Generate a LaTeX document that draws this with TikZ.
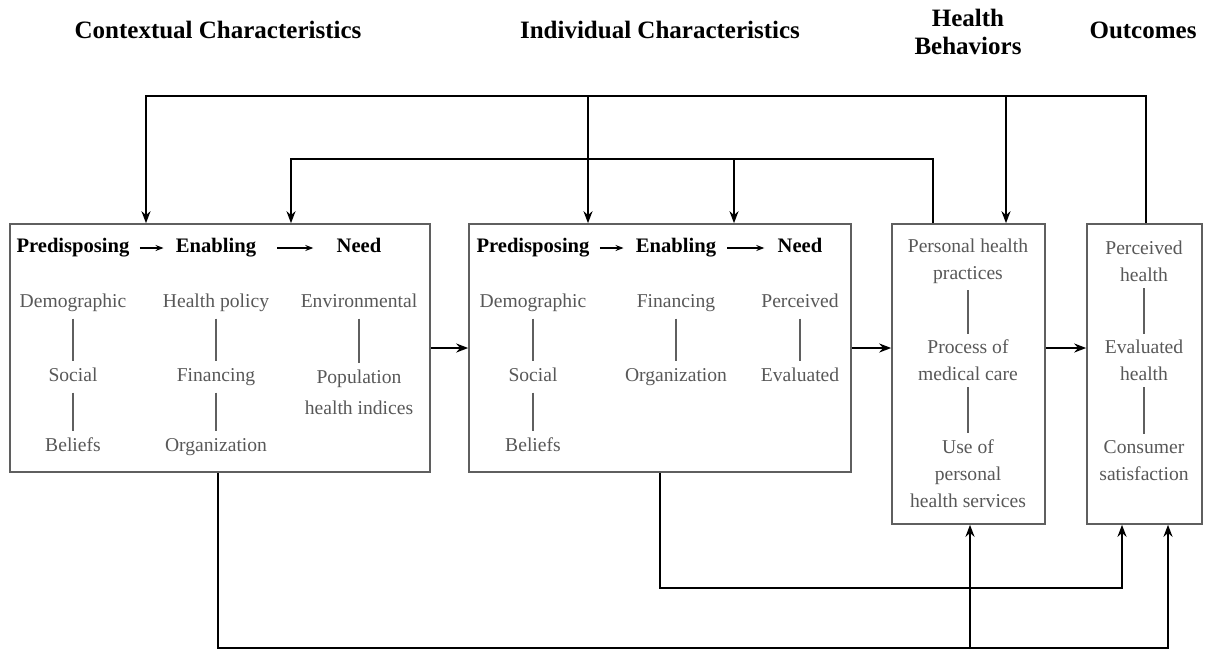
\documentclass[tikz,border=0pt]{standalone}
\usepackage{fontspec}
\setmainfont{Liberation Serif}
\usepackage{tikz}
\usetikzlibrary{arrows.meta}

\definecolor{itemgray}{RGB}{88,88,88}
\definecolor{framegray}{RGB}{95,95,95}

\tikzset{
  bigbox/.style={draw=framegray, line width=0.8pt, rectangle, inner sep=0pt},
  head/.style={font=\fontsize{12.5}{14}\selectfont\bfseries, align=center, inner sep=1pt},
  sub/.style={font=\fontsize{10.3}{12}\selectfont\bfseries, inner sep=2pt, text height=7.2pt, text depth=2.3pt},
  item/.style={text=itemgray, font=\fontsize{9.8}{13.5}\selectfont, inner xsep=2pt, inner ysep=3pt, text height=7pt, text depth=2.2pt},
  itemml/.style={text=itemgray, font=\fontsize{9.8}{13.5}\selectfont, align=center, inner xsep=2pt, inner ysep=3pt},
  link/.style={line width=0.9pt, draw=framegray},
  flow/.style={line width=1pt, -{Stealth[length=6pt,width=4.5pt]}},
  hdarrow/.style={line width=0.6pt, -{Stealth[length=4pt,width=3pt]}, shorten <=3pt, shorten >=4pt},
}

\begin{document}
\begin{tikzpicture}[x=0.5pt,y=-0.5pt]
\useasboundingbox (0,0) rectangle (1205,650);

% Titles
\node[head] (tctx) at (218,30) {Contextual Characteristics};
\node[head] (tind) at (660,30) {Individual Characteristics};
\node[head] (tbeh) at (968,32) {Health\\Behaviors};
\node[head] (tout) at (1143,30) {Outcomes};

% Boxes
\node[bigbox, minimum width=210pt, minimum height=124pt] (ctx) at (220,348) {};
\node[bigbox, minimum width=191pt, minimum height=124pt] (ind) at (660,348) {};
\node[bigbox, minimum width=76.5pt, minimum height=150pt] (beh) at (968.5,374) {};
\node[bigbox, minimum width=57.5pt, minimum height=150pt] (out) at (1144.5,374) {};

% Contextual box
\node[sub] (cpre) at (73,248) {Predisposing};
\node[sub] (cenb) at (216,248) {Enabling};
\node[sub] (cneed) at (359,248) {Need};
\draw[hdarrow] (cpre) -- (cenb);
\draw[hdarrow, shorten <=8.5pt, shorten >=9.5pt] (cenb) -- (cneed);

\node[item] (cdem) at (73,303) {Demographic};
\node[item] (csoc) at (73,377) {Social};
\node[item] (cbel) at (73,447) {Beliefs};
\node[item] (cpol) at (216,303) {Health policy};
\node[item] (cfin) at (216,377) {Financing};
\node[item] (corg) at (216,447) {Organization};
\node[item] (cenv) at (359,303) {Environmental};
\node[itemml] (cpop) at (359,392) {Population\\[2pt]health indices};
\draw[link] (cdem) -- (csoc);
\draw[link] (csoc) -- (cbel);
\draw[link] (cpol) -- (cfin);
\draw[link] (cfin) -- (corg);
\draw[link] (cenv) -- (cpop);

% Individual box
\node[sub] (ipre) at (533,248) {Predisposing};
\node[sub] (ienb) at (676,248) {Enabling};
\node[sub] (ineed) at (800,248) {Need};
\draw[hdarrow] (ipre) -- (ienb);
\draw[hdarrow, shorten <=3.5pt, shorten >=4.5pt] (ienb) -- (ineed);

\node[item] (idem) at (533,303) {Demographic};
\node[item] (isoc) at (533,377) {Social};
\node[item] (ibel) at (533,447) {Beliefs};
\node[item] (ifin) at (676,303) {Financing};
\node[item] (iorg) at (676,377) {Organization};
\node[item] (iper) at (800,303) {Perceived};
\node[item] (ieval) at (800,377) {Evaluated};
\draw[link] (idem) -- (isoc);
\draw[link] (isoc) -- (ibel);
\draw[link] (ifin) -- (iorg);
\draw[link] (iper) -- (ieval);

% Health behaviors box
\node[itemml] (bprac) at (968,261.5) {Personal health\\practices};
\node[itemml] (bproc) at (968,360.5) {Process of\\medical care};
\node[itemml] (buse) at (968,473.5) {Use of\\personal\\health services};
\draw[link] (bprac) -- (bproc);
\draw[link] (bproc) -- (buse);

% Outcomes box
\node[itemml] (operc) at (1144,261.5) {Perceived\\health};
\node[itemml] (oeval) at (1144,360.5) {Evaluated\\health};
\node[itemml] (ocons) at (1144,460.5) {Consumer\\satisfaction};
\draw[link] (operc) -- (oeval);
\draw[link] (oeval) -- (ocons);

% Main flow
\draw[flow] (ctx.east) -- (ind.west);
\draw[flow] (ind.east) -- (beh.west |- ind.east);
\draw[flow] (beh.east |- ind.east) -- (out.west |- ind.east);

% Feedback from outcomes
\coordinate (tA) at (146,96);
\coordinate (tB) at (588,96);
\coordinate (tC) at (1006,96);
\coordinate (tD) at (1146,96);
\draw[flow] (tD |- out.north) -- (tD) -- (tA) -- (tA |- ctx.north);
\draw[flow] (tB) -- (tB |- ind.north);
\draw[flow] (tC) -- (tC |- beh.north);

% Feedback from health behaviors
\coordinate (mA) at (291,159);
\coordinate (mB) at (734,159);
\coordinate (mC) at (933,159);
\draw[flow] (mC |- beh.north) -- (mC) -- (mA) -- (mA |- ctx.north);
\draw[flow] (mB) -- (mB |- ind.north);

% Lines below
\coordinate (bA) at (218,648);
\coordinate (bB) at (970,648);
\coordinate (bC) at (1168,648);
\draw[flow] (bA |- ctx.south) -- (bA) -- (bC) -- (bC |- out.south);
\draw[flow] (bB) -- (bB |- beh.south);

\coordinate (cA) at (660,588);
\coordinate (cB) at (1122,588);
\draw[flow] (ind.south) -- (cA) -- (cB) -- (cB |- out.south);

\end{tikzpicture}
\end{document}
